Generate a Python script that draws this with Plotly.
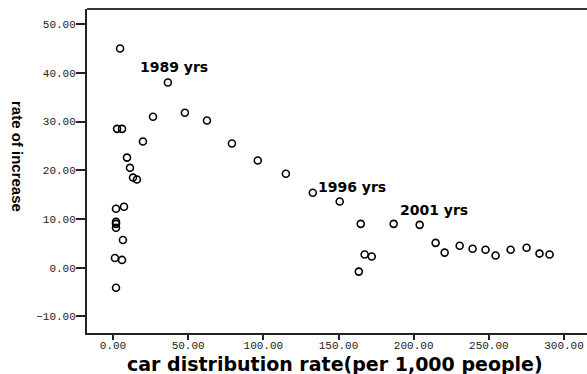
import plotly.graph_objects as go

# Car distribution rate (per 1,000 people) vs. yearly rate of increase
car_rate = [
    4.7, 36.5, 26.6, 47.8, 62.5, 2.7, 6.0, 19.9, 79.1, 96.3, 115.0,
    9.3, 11.3, 13.3, 15.9, 2.0, 7.3, 2.0, 2.0, 2.0, 6.6, 1.3, 6.0, 2.0,
    132.9, 150.8, 164.8, 167.4, 172.1, 163.5,
    186.7, 204.0, 214.6, 220.6, 230.6, 239.2, 247.8, 254.5, 264.5,
    275.1, 283.7, 290.4,
]
increase_rate = [
    45.0, 38.0, 31.0, 31.8, 30.2, 28.5, 28.5, 25.9, 25.5, 22.0, 19.3,
    22.6, 20.5, 18.5, 18.1, 12.1, 12.5, 9.4, 9.0, 8.2, 5.7, 2.0, 1.6, -4.1,
    15.4, 13.6, 9.0, 2.7, 2.3, -0.8,
    9.0, 8.8, 5.1, 3.1, 4.5, 3.9, 3.7, 2.5, 3.7, 4.1, 2.9, 2.7,
]

year_labels = ["1989 yrs", "1996 yrs", "2001 yrs"]
year_label_x = [40.4, 158.9, 213.4]
year_label_y = [41.2, 16.6, 11.9]

x_ticks = [0, 50, 100, 150, 200, 250, 300]
y_ticks = [-10, 0, 10, 20, 30, 40, 50]

tick_font = dict(family="Liberation Mono, DejaVu Sans Mono, monospace", size=11, color="#222")
bold_font = "DejaVu Sans, Arial, sans-serif"

fig = go.Figure(
    go.Scatter(
        x=car_rate,
        y=increase_rate,
        mode="markers",
        marker=dict(symbol="circle-open", size=7, color="black", line=dict(width=1.6, color="black")),
        hoverinfo="x+y",
    )
)

for txt, lx, ly in zip(year_labels, year_label_x, year_label_y):
    fig.add_annotation(
        x=lx, y=ly, xref="x", yref="y", text=f"<b>{txt}</b>", showarrow=False,
        font=dict(family=bold_font, size=14, color="black"),
    )

# axis titles (positions in pixels, converted to paper fractions below)
fig.add_annotation(
    x=335, y=10, xref="paper", yref="paper", xanchor="center", yanchor="middle",
    text="<b>car distribution rate(per 1,000 people)</b>", showarrow=False,
    font=dict(family=bold_font, size=19, color="black"),
)
fig.add_annotation(
    x=18, y=374 - 156, xref="paper", yref="paper", xanchor="center", yanchor="middle",
    text="<b>rate of increase</b>", showarrow=False, textangle=90,
    font=dict(family="Liberation Sans, Arial, sans-serif", size=15, color="black"),
)

# top border of the frame
fig.add_shape(type="line", xref="paper", yref="paper", x0=0, x1=1, y0=1, y1=1,
              line=dict(color="#333", width=2))

fig.update_layout(
    width=587,
    height=374,
    margin=dict(l=87, r=0, t=9, b=41),
    paper_bgcolor="white",
    plot_bgcolor="white",
    showlegend=False,
    xaxis=dict(
        range=[-17.3, 315.3], tickvals=x_ticks, tickformat=".2f",
        showgrid=False, zeroline=False, showline=True, linecolor="#222", linewidth=2,
        ticks="outside", ticklen=5, tickwidth=1.5, tickcolor="#222", tickfont=tick_font,
        ticklabelstandoff=-4,
    ),
    yaxis=dict(
        range=[-13.4, 53.1], tickvals=y_ticks, tickformat=".2f",
        showgrid=False, zeroline=False, showline=True, linecolor="#222", linewidth=2,
        ticks="outside", ticklen=9, tickwidth=1.5, tickcolor="#222", tickfont=tick_font,
        ticklabelstandoff=-2,
    ),
)

pw, ph = 587 - 87 - 0, 374 - 9 - 41
for ann in fig.layout.annotations:
    if ann.xref == "paper":
        ann.x = (ann.x - 87) / pw
        ann.y = (ann.y - 41) / ph

fig.write_html("out.html")
